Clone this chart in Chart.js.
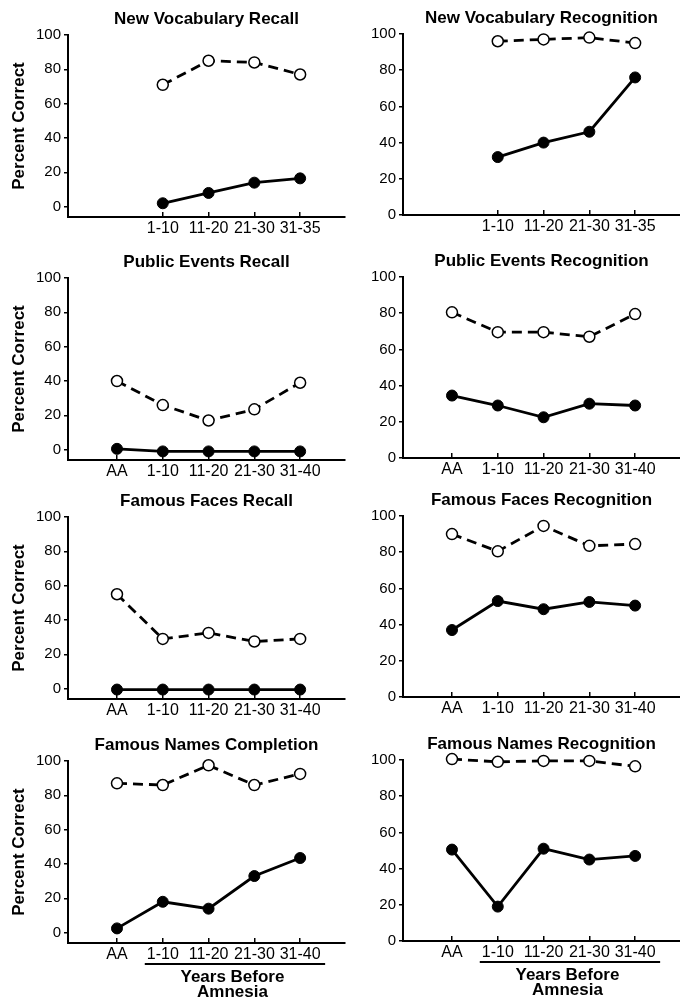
<!DOCTYPE html>
<html>
<head>
<meta charset="utf-8">
<script src="https://cdn.jsdelivr.net/npm/chart.js@4"></script>
<style>
  html, body { margin: 0; padding: 0; background: #fff; }
  body { width: 680px; height: 1003px; position: relative; overflow: hidden; }
  canvas { position: absolute; }
</style>
</head>
<body>
<canvas id="vocab-recall"></canvas>
<canvas id="vocab-recog"></canvas>
<canvas id="events-recall"></canvas>
<canvas id="events-recog"></canvas>
<canvas id="faces-recall"></canvas>
<canvas id="faces-recog"></canvas>
<canvas id="names-comp"></canvas>
<canvas id="names-recog"></canvas>
<script>
// categories (slot 0 = AA, empty for the vocabulary tests)
const vocabLabels = ['', '1-10', '11-20', '21-30', '31-35'];
const remoteLabels = ['AA', '1-10', '11-20', '21-30', '31-40'];
const yTicks = [0, 20, 40, 60, 80, 100];
const yearsText = ['Years Before', 'Amnesia'];

// open circles / dashed = normal, filled circles / solid = patient
const vocabRecallNormal = [null, 71, 85, 84, 77];
const vocabRecallPatient = [null, 2, 8, 14, 16.5];
const vocabRecogNormal = [null, 96, 97, 98, 95];
const vocabRecogPatient = [null, 32, 40, 46, 76];
const eventsRecallNormal = [40, 26, 17, 23.5, 39];
const eventsRecallPatient = [0.5, -1, -1, -1, -1];
const eventsRecogNormal = [80.5, 69.5, 69.5, 67, 79.5];
const eventsRecogPatient = [34.5, 29, 22.5, 30, 29];
const facesRecallNormal = [55, 29, 32.5, 27.5, 29];
const facesRecallPatient = [-0.5, -0.5, -0.5, -0.5, -0.5];
const facesRecogNormal = [90, 80.5, 94.5, 83.5, 84.5];
const facesRecogPatient = [37, 53, 48.5, 52.5, 50.5];
const namesCompNormal = [87, 86, 97.5, 86, 92.5];
const namesCompPatient = [2.5, 18, 14, 33, 43.5];
const namesRecogNormal = [100.5, 99, 99.5, 99.5, 96.5];
const namesRecogPatient = [50.5, 19, 51, 45, 47];

const FONT = '"Liberation Sans", Arial, Helvetica, sans-serif';
Chart.defaults.font.family = FONT;
Chart.defaults.color = '#000';

// underline + "Years Before Amnesia" under the bottom row
const yearsLabel = {
    id: 'yearsLabel',
    afterDraw(chart, args, opts) {
        if (!opts.show) return;
        const ctx = chart.ctx;
        const x = chart.scales.x;
        const top = x.top;
        const x1 = x.getPixelForValue(1);
        const x4 = x.getPixelForValue(4);
        ctx.save();
        ctx.strokeStyle = '#000';
        ctx.lineWidth = 2;
        ctx.beginPath();
        ctx.moveTo(x1 - 18, top + 21);
        ctx.lineTo(x4 + 25, top + 21);
        ctx.stroke();
        ctx.font = 'bold 17px ' + FONT;
        ctx.fillStyle = '#000';
        ctx.textAlign = 'center';
        ctx.textBaseline = 'middle';
        const cx = (x1 + x4) / 2 + 1;
        ctx.fillText(yearsText[0], cx, top + 34);
        ctx.fillText(yearsText[1], cx, top + 49);
        ctx.restore();
    }
};

function toPoints(values) {
    return values.map((v, i) => ({ x: i, y: v }));
}

function makePanel(id, title, labels, normal, patient, side, top, bottomRow) {
    const isLeft = side === 'left';
    const canvas = document.getElementById(id);
    const plotH = isLeft ? 182 : 181;
    const axisH = bottomRow ? 62 : 30;
    const width = isLeft ? 350 : 340;
    canvas.width = width;
    canvas.height = 29 + plotH + axisH;
    canvas.style.left = (isLeft ? 0 : 340) + 'px';
    canvas.style.top = (isLeft ? top + 1 : top) + 'px';

    new Chart(canvas, {
        type: 'line',
        data: {
            datasets: [{
                data: toPoints(normal),
                borderColor: '#000',
                borderWidth: 2.8,
                borderDash: [10, 6],
                pointRadius: 5.5,
                pointBackgroundColor: '#fff',
                pointBorderColor: '#000',
                pointBorderWidth: 1.5,
                clip: false
            }, {
                data: toPoints(patient),
                borderColor: '#000',
                borderWidth: 2.8,
                pointRadius: 5.5,
                pointBackgroundColor: '#000',
                pointBorderColor: '#000',
                pointBorderWidth: 1,
                clip: false
            }]
        },
        options: {
            responsive: false,
            animation: false,
            devicePixelRatio: 1,
            layout: { autoPadding: false, padding: { left: 0, right: isLeft ? 5 : 0, top: 0, bottom: 0 } },
            plugins: {
                legend: { display: false },
                tooltip: { enabled: false },
                title: {
                    display: true,
                    text: title,
                    fullSize: false,
                    color: '#000',
                    font: { size: 17, weight: 'bold', lineHeight: 1 },
                    padding: { top: 5, bottom: 7 }
                },
                yearsLabel: { show: bottomRow }
            },
            scales: {
                x: {
                    type: 'linear',
                    min: -1.07,
                    max: 4.98,
                    afterBuildTicks: (scale) => {
                        scale.ticks = labels
                            .map((l, i) => (l ? { value: i } : null))
                            .filter(Boolean);
                    },
                    afterFit: (scale) => { scale.height = axisH; },
                    ticks: {
                        callback: (v) => labels[v],
                        font: { size: 16 },
                        color: '#000',
                        padding: 7,
                        maxRotation: 0,
                        autoSkip: false
                    },
                    grid: { drawOnChartArea: false, drawTicks: true, tickLength: -5, color: '#000', lineWidth: 1.5 },
                    border: { display: true, color: '#000', width: 2 }
                },
                y: {
                    min: isLeft ? -6 : 0,
                    max: 100,
                    afterBuildTicks: (scale) => {
                        scale.ticks = yTicks.map(v => ({ value: v }));
                    },
                    afterFit: (scale) => { scale.width = isLeft ? 68 : 63; },
                    ticks: { font: { size: 15 }, color: '#000', padding: 3 },
                    grid: { drawOnChartArea: false, drawTicks: true, tickLength: 4, color: '#000', lineWidth: 1.5 },
                    border: { display: true, color: '#000', width: 2 },
                    title: {
                        display: isLeft,
                        text: 'Percent Correct',
                        color: '#000',
                        font: { size: 17, weight: 'bold' },
                        padding: { top: 9, bottom: 0 }
                    }
                }
            }
        },
        plugins: [yearsLabel]
    });
}

makePanel('vocab-recall', 'New Vocabulary Recall', vocabLabels, vocabRecallNormal, vocabRecallPatient, 'left', 5, false);
makePanel('vocab-recog', 'New Vocabulary Recognition', vocabLabels, vocabRecogNormal, vocabRecogPatient, 'right', 5, false);
makePanel('events-recall', 'Public Events Recall', remoteLabels, eventsRecallNormal, eventsRecallPatient, 'left', 248, false);
makePanel('events-recog', 'Public Events Recognition', remoteLabels, eventsRecogNormal, eventsRecogPatient, 'right', 248, false);
makePanel('faces-recall', 'Famous Faces Recall', remoteLabels, facesRecallNormal, facesRecallPatient, 'left', 487, false);
makePanel('faces-recog', 'Famous Faces Recognition', remoteLabels, facesRecogNormal, facesRecogPatient, 'right', 487, false);
makePanel('names-comp', 'Famous Names Completion', remoteLabels, namesCompNormal, namesCompPatient, 'left', 731, true);
makePanel('names-recog', 'Famous Names Recognition', remoteLabels, namesRecogNormal, namesRecogPatient, 'right', 731, true);
</script>
</body>
</html>
